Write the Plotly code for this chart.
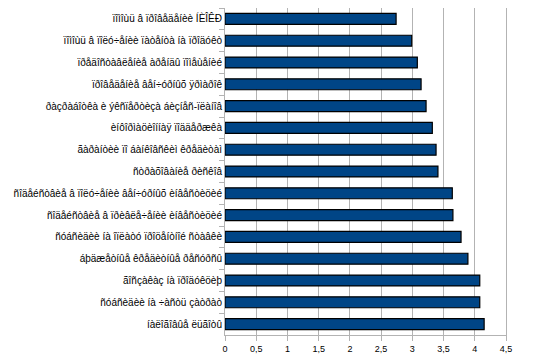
import plotly.graph_objects as go

categories = [
    "ïîìîùü â ïðîâåäåíèè ÍÈÎÊÐ",
    "ïîìîùü â ïîëó÷åíèè ïàòåíòà íà ïðîäóêò",
    "ïðåäîñòàâëåíèå àðåíäû ïîìåùåíèé",
    "ïðîâåäåíèå âåí÷óðíûõ ÿðìàðîê",
    "ðàçðàáîòêà è ýêñïåðòèçà áèçíåñ-ïëàíîâ",
    "èíôîðìàöèîííàÿ ïîääåðæêà",
    "ãàðàíòèè ïî áàíêîâñêèì êðåäèòàì",
    "ñòðàõîâàíèå ðèñêîâ",
    "ñîäåéñòâèå â ïîëó÷åíèè âåí÷óðíûõ èíâåñòèöèé",
    "ñîäåéñòâèå â ïðèâëå÷åíèè èíâåñòèöèé",
    "ñóáñèäèè íà îïëàòó ïðîöåíòíîé ñòàâêè",
    "áþäæåòíûå êðåäèòíûå ðåñóðñû",
    "ãîñçàêàç íà ïðîäóêöèþ",
    "ñóáñèäèè íà ÷àñòü çàòðàò",
    "íàëîãîâûå ëüãîòû",
]
values = [2.74, 2.99, 3.08, 3.14, 3.22, 3.32, 3.38, 3.41,
          3.64, 3.65, 3.78, 3.89, 4.08, 4.08, 4.15]
x_ticks = [0, 0.5, 1, 1.5, 2, 2.5, 3, 3.5, 4, 4.5]

fig = go.Figure(go.Bar(
    x=values, y=categories, orientation="h",
    marker=dict(color="#004586", line=dict(color="#000000", width=1.2)),
    width=0.5,
))

grid = "#b3b3b3"
fig.update_layout(
    width=525, height=356,
    margin=dict(l=217, r=27, t=0, b=29, autoexpand=False),
    paper_bgcolor="white", plot_bgcolor="white",
    separators=", ",
    showlegend=False,
    font=dict(family="Liberation Sans, Arial, sans-serif", size=9, color="#000000"),
)
fig.update_xaxes(
    range=[0, 4.5], tickvals=x_ticks,
    showgrid=True, gridcolor=grid, gridwidth=1,
    showline=True, linecolor=grid, linewidth=1, mirror=True,
    ticks="outside", ticklen=5, tickcolor=grid,
    tickfont=dict(size=9), zeroline=False,
)
fig.update_yaxes(
    autorange="reversed",
    showline=True, linecolor=grid, linewidth=1, mirror=True,
    ticks="outside", ticklen=5, tickcolor=grid, tickson="boundaries",
    tickfont=dict(size=10), showgrid=False,
)

fig.write_html("out.html")
